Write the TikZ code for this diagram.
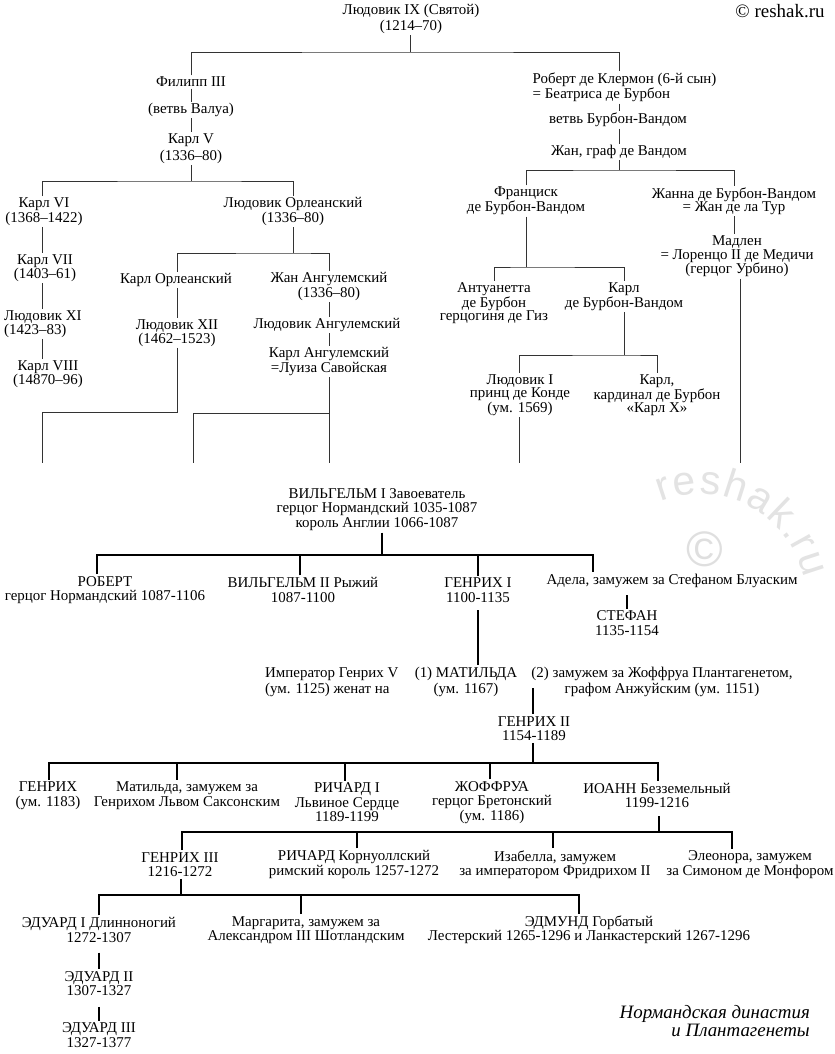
\documentclass[tikz,border=0pt]{standalone}
\usepackage{fontspec}
\setmainfont{Liberation Serif}
\newfontfamily\wmfont{Liberation Sans}
\usetikzlibrary{decorations.text}
\begin{document}
\begin{tikzpicture}[x=1bp,y=-1bp,
  t/.style={font=\fontsize{15}{13.5}\selectfont, align=center, inner sep=1.5bp},
  b/.style={font=\fontsize{15}{14.5}\selectfont, align=center, inner sep=2bp},
  thinline/.style={draw=black!80, line width=0.9bp},
  thickline/.style={draw=black, line width=2bp},
]
\fill[white] (0,0) rectangle (835,1054);
\useasboundingbox (0,0) rectangle (835,1054);

% watermark
\begin{scope}[y=1bp]
\path[decorate, decoration={text along path, text={|\wmfont\fontsize{41}{41}\selectfont|reshak.ru}, text align=fit to path, text color=gray!22}] (700,-600) ++(112:106) arc[start angle=112, end angle=12, radius=106];
\node[text=gray!25, font=\wmfont\fontsize{50}{50}\selectfont] (wmc) at (705,-549) {©};
\end{scope}
\node[font=\fontsize{19}{19}\selectfont, inner sep=0pt] (wm) at (780,11) {© reshak.ru};

% ---------- top tree ----------
\node[t, font=\fontsize{15}{16}\selectfont] (lud9) at (411,19) {Людовик IX (Святой)\\(1214–70)};
\node[t] (filipp) at (191,82) {Филипп III};
\node[t] (valua) at (191,110) {(ветвь Валуа)};
\node[t, font=\fontsize{15}{17}\selectfont] (karl5) at (191,148.5) {Карл V\\(1336–80)};
\node[t, align=left, anchor=west, font=\fontsize{15}{15}\selectfont] (robert) at (531,87.5) {Роберт де Клермон (6-й сын)\\= Беатриса де Бурбон};
\node[t] (bvand) at (618,120) {ветвь Бурбон-Вандом};
\node[t] (jan) at (619,152) {Жан, граф де Вандом};
\node[t] (franc) at (526,201) {Франциск\\де Бурбон-Вандом};
\node[t] (jeanne) at (734,201) {Жанна де Бурбон-Вандом\\= Жан де ла Тур};
\node[t] (madlen) at (737,256.5) {Мадлен\\= Лоренцо II де Медичи\\(герцог Урбино)};
\node[t] (antu) at (494,303) {Антуанетта\\де Бурбон\\герцогиня де Гиз};
\node[t] (karlbv) at (624,296.5) {Карл\\де Бурбон-Вандом};
\node[t] (ludI) at (520,395) {Людовик I\\принц де Конде\\(ум. 1569)};
\node[t] (karlX) at (657,395) {Карл,\\кардинал де Бурбон\\«Карл X»};
\node[t] (karl6) at (44,211.5) {Карл VI\\(1368–1422)};
\node[t] (karl7) at (45,268) {Карл VII\\(1403–61)};
\node[t, align=left, anchor=west] (lud11) at (2.5,324) {Людовик XI\\(1423–83)};
\node[t] (karl8) at (48,374) {Карл VIII\\(14870–96)};
\node[t] (ludorl) at (293,211.5) {Людовик Орлеанский\\(1336–80)};
\node[t] (karlorl) at (176,280) {Карл Орлеанский};
\node[t] (lud12) at (177,333) {Людовик XII\\(1462–1523)};
\node[t] (janang) at (329,286.5) {Жан Ангулемский\\(1336–80)};
\node[t] (ludang) at (327,325) {Людовик Ангулемский};
\node[t] (karlang) at (329,361.5) {Карл Ангулемский\\=Луиза Савойская};

\coordinate (b1) at (410,52);
\coordinate (c42) at (42,0);
\coordinate (b2) at (191,181);
\coordinate (b3) at (293,253);
\coordinate (b4) at (619,170);
\coordinate (b5) at (177,412);
\coordinate (b6) at (329,413);
\coordinate (b7) at (526,267);
\coordinate (b8) at (624,355);
\coordinate (e1) at (42,463);
\coordinate (e2) at (329,463);
\coordinate (e3) at (193,463);
\coordinate (e4) at (519,463);
\coordinate (e5) at (740,463);

\draw[thinline] (lud9.south -| b1) -- (b1);
\draw[thinline] (filipp.north) |- (b1) -| (jan.center |- robert.north);
\draw[thinline] (filipp) -- (valua);
\draw[thinline] (valua) -- (karl5);
\draw[thinline] (karl5.south) -- (b2);
\draw[thinline] (karl6.north -| c42) |- (b2) -| (ludorl.north);
\draw[thinline] (karl6.south -| c42) -- (karl7.north -| c42);
\draw[thinline] (karl7.south -| c42) -- (lud11.north -| c42);
\draw[thinline] (lud11.south -| c42) -- (karl8.north -| c42);
\draw[thinline] (ludorl.south) -- (b3);
\draw[thinline] (karlorl.north -| b5) |- (b3) -| (janang.north);
\draw[thinline] (karlorl.south -| b5) -- (lud12.north -| b5);
\draw[thinline] (lud12.south -| b5) -- (b5) -| (e1);
\draw[thinline] (janang.south) -- (janang.south |- ludang.north);
\draw[thinline] (ludang.south -| b6) -- (karlang.north -| b6);
\draw[thinline] (karlang.south -| b6) -- (e2);
\draw[thinline] (b6) -| (e3);
\draw[thinline] (robert.south -| b4) -- (bvand.north -| b4);
\draw[thinline] (bvand.south -| b4) -- (jan.north -| b4);
\draw[thinline] (jan.south -| b4) -- (b4);
\draw[thinline] (franc.north) |- (b4) -| (jeanne.north);
\draw[thinline] (franc.south) -- (b7);
\draw[thinline] (antu.north) |- (b7) -| (karlbv.north);
\draw[thinline] (karlbv.south) -- (b8);
\draw[thinline] (ludI.north -| e4) |- (b8) -| (karlX.north);
\draw[thinline] (ludI.south -| e4) -- (e4);
\draw[thinline] (jeanne.south) -- (jeanne.south |- madlen.north);
\draw[thinline] (madlen.south -| e5) -- (e5);

% ---------- bottom tree ----------
\node[b] (wil1) at (377,509.5) {ВИЛЬГЕЛЬМ I Завоеватель\\герцог Нормандский 1035-1087\\король Англии 1066-1087};
\node[b] (robert2) at (105,590) {РОБЕРТ\\герцог Нормандский 1087-1106};
\node[b] (wil2) at (303,590) {ВИЛЬГЕЛЬМ II Рыжий\\1087-1100};
\node[b] (hen1) at (478,590) {ГЕНРИХ I\\1100-1135};
\node[b] (adela) at (672,581) {Адела, замужем за Стефаном Блуаским};
\node[b] (stefan) at (627,623) {СТЕФАН\\1135-1154};
\node[b, align=left, anchor=west, font=\fontsize{15}{16}\selectfont] (hen5) at (263,682) {Император Генрих V\\(ум. 1125) женат на};
\node[b, font=\fontsize{15}{16}\selectfont] (matilda) at (466,682) {(1) МАТИЛЬДА\\(ум. 1167)};
\node[b, font=\fontsize{15}{16}\selectfont] (geoff) at (662,682) {(2) замужем за Жоффруа Плантагенетом,\\графом Анжуйским (ум. 1151)};
\node[b] (hen2) at (534,728.5) {ГЕНРИХ II\\1154-1189};
\node[b] (henry) at (48,795.5) {ГЕНРИХ\\(ум. 1183)};
\node[b] (matsax) at (187,795.5) {Матильда, замужем за\\Генрихом Львом Саксонским};
\node[b] (rich1) at (347,802.5) {РИЧАРД I\\Львиное Сердце\\1189-1199};
\node[b] (joff) at (492,802.5) {ЖОФФРУА\\герцог Бретонский\\(ум. 1186)};
\node[b] (john) at (657,795.5) {ИОАНН Безземельный\\1199-1216};
\node[b] (hen3) at (180,864.5) {ГЕНРИХ III\\1216-1272};
\node[b] (richc) at (354,864.5) {РИЧАРД Корнуоллский\\римский король 1257-1272};
\node[b] (isab) at (555,864.5) {Изабелла, замужем\\за императором Фридрихом II};
\node[b] (eleon) at (750,864.5) {Элеонора, замужем\\за Симоном де Монфором};
\node[b] (ed1) at (99,930) {ЭДУАРД I Длинноногий\\1272-1307};
\node[b] (marg) at (306,930) {Маргарита, замужем за\\Александром III Шотландским};
\node[b] (edm) at (589,930) {ЭДМУНД Горбатый\\Лестерский 1265-1296 и Ланкастерский 1267-1296};
\node[b] (ed2) at (99,983.5) {ЭДУАРД II\\1307-1327};
\node[b] (ed3) at (99,1035) {ЭДУАРД III\\1327-1377};
\node[align=right, anchor=east, inner sep=0pt, font=\fontsize{19}{15}\selectfont\itshape] (cap) at (810,1021) {Нормандская династия\\и Плантагенеты};

\coordinate (d1) at (382,555);
\coordinate (d1l) at (97,555);
\coordinate (d1r) at (593,555);
\draw[thickline] (wil1.south -| d1) -- (d1);
\draw[thickline] (robert2.north -| d1l) -- (d1l) -- (d1r) -- (adela.north -| d1r);
\draw[thickline] (wil2.north -| 300,0) -- (d1 -| 300,0);
\draw[thickline] (hen1.north) -- (hen1.north |- d1);
\draw[thickline, shorten <=5bp] (adela.south -| stefan.north) -- (stefan.north);
\draw[thickline, shorten <=6bp] (hen1.south) -- (hen1.south |- matilda.north);
\coordinate (h2top) at (533,688);
\draw[thickline] (h2top) -- (hen2.north -| h2top);
\coordinate (d2) at (533,763);
\coordinate (d2l) at (49,763);
\coordinate (d2r) at (658,763);
\draw[thickline] (hen2.south -| d2) -- (d2);
\draw[thickline] (henry.north -| d2l) -- (d2l) -- (d2r) -- (john.north -| d2r);
\draw[thickline] (matsax.north -| 177,0) -- (d2 -| 177,0);
\draw[thickline] (rich1.north -| 345,0) -- (d2 -| 345,0);
\draw[thickline] (joff.north -| 490,0) -- (d2 -| 490,0);
\coordinate (d3) at (659,832);
\coordinate (d3l) at (182,832);
\coordinate (d3r) at (732,832);
\draw[thickline, shorten <=6bp] (john.south -| d3) -- (d3);
\draw[thickline] (hen3.north -| d3l) -- (d3l) -- (d3r) -- (eleon.north -| d3r);
\draw[thickline] (richc.north -| 357,0) -- (d3 -| 357,0);
\draw[thickline] (isab.north -| 553,0) -- (d3 -| 553,0);
\coordinate (d4) at (181,895);
\coordinate (d4l) at (99,895);
\coordinate (d4r) at (579,895);
\draw[thickline] (hen3.south -| d4) -- (d4);
\draw[thickline] (ed1.north -| d4l) -- (d4l) -- (d4r) -- (edm.north -| d4r);
\draw[thickline] (marg.north -| 301,0) -- (d4 -| 301,0);
\draw[thickline, shorten <=8bp] (ed1.south) -- (ed2.north);
\draw[thickline, shorten <=9bp] (ed2.south) -- (ed3.north);
\end{tikzpicture}
\end{document}
